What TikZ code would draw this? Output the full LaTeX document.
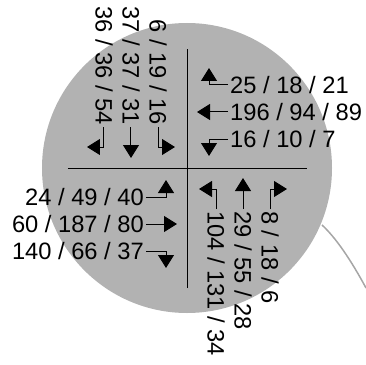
\documentclass[tikz,border=0pt]{standalone}
\usepackage{fontspec}
\setmainfont{Liberation Sans}
\usetikzlibrary{arrows.meta}
\begin{document}
\begin{tikzpicture}[x=1pt,y=1pt,
    cnt/.style={inner sep=2pt, font=\fontsize{23.7}{28}\selectfont},
    mv/.style={line width=1pt, -{Triangle[length=13pt,width=16pt]}}]
\useasboundingbox (-187,-196) rectangle (179,168);
\draw[gray!70, line width=1.5pt] (135,-57) .. controls (148.3,-69.3) and (163,-90.3) .. (179,-120);
\fill[gray!60] (0,0) circle (145);
\draw[line width=1pt] (0,-120) -- (0,119);
\draw[line width=1pt] (-119,0) -- (120,0);
\node[cnt, rotate=-90, anchor=east] (nw1) at (-83,41) {36 / 36 / 54};
\node[cnt, rotate=-90, anchor=east] (nw2) at (-56,41) {37 / 37 / 31};
\node[cnt, rotate=-90, anchor=east] (nw3) at (-29,41) {6 / 19 / 16};
\coordinate (nw1t) at (-100,21);
\coordinate (nw2t) at (-56,10);
\coordinate (nw3t) at (-12,21);
\draw[mv] (nw1.east) |- (nw1t);
\draw[mv] (nw2.east) -- (nw2t);
\draw[mv] (nw3.east) |- (nw3t);
\node[cnt, anchor=west] (ne1) at (41,83) {25 / 18 / 21};
\node[cnt, anchor=west] (ne2) at (41,56) {196 / 94 / 89};
\node[cnt, anchor=west] (ne3) at (41,29) {16 / 10 / 7};
\coordinate (ne1t) at (22,100);
\coordinate (ne2t) at (10,56);
\coordinate (ne3t) at (22,12);
\draw[mv] (ne1.west) -| (ne1t);
\draw[mv] (ne2.west) -- (ne2t);
\draw[mv] (ne3.west) -| (ne3t);
\node[cnt, anchor=east] (sw1) at (-41,-29) {24 / 49 / 40};
\node[cnt, anchor=east] (sw2) at (-41,-56) {60 / 187 / 80};
\node[cnt, anchor=east] (sw3) at (-41,-83) {140 / 66 / 37};
\coordinate (sw1t) at (-21,-12);
\coordinate (sw2t) at (-10,-56);
\coordinate (sw3t) at (-21,-100);
\draw[mv] (sw1.east) -| (sw1t);
\draw[mv] (sw2.east) -- (sw2t);
\draw[mv] (sw3.east) -| (sw3t);
\node[cnt, rotate=-90, anchor=west] (se1) at (29,-41) {104 / 131 / 34};
\node[cnt, rotate=-90, anchor=west] (se2) at (56,-41) {29 / 55 / 28};
\node[cnt, rotate=-90, anchor=west] (se3) at (83,-41) {8 / 18 / 6};
\coordinate (se1t) at (12,-21);
\coordinate (se2t) at (56,-10);
\coordinate (se3t) at (100,-21);
\draw[mv] (se1.west) |- (se1t);
\draw[mv] (se2.west) -- (se2t);
\draw[mv] (se3.west) |- (se3t);
\end{tikzpicture}
\end{document}
